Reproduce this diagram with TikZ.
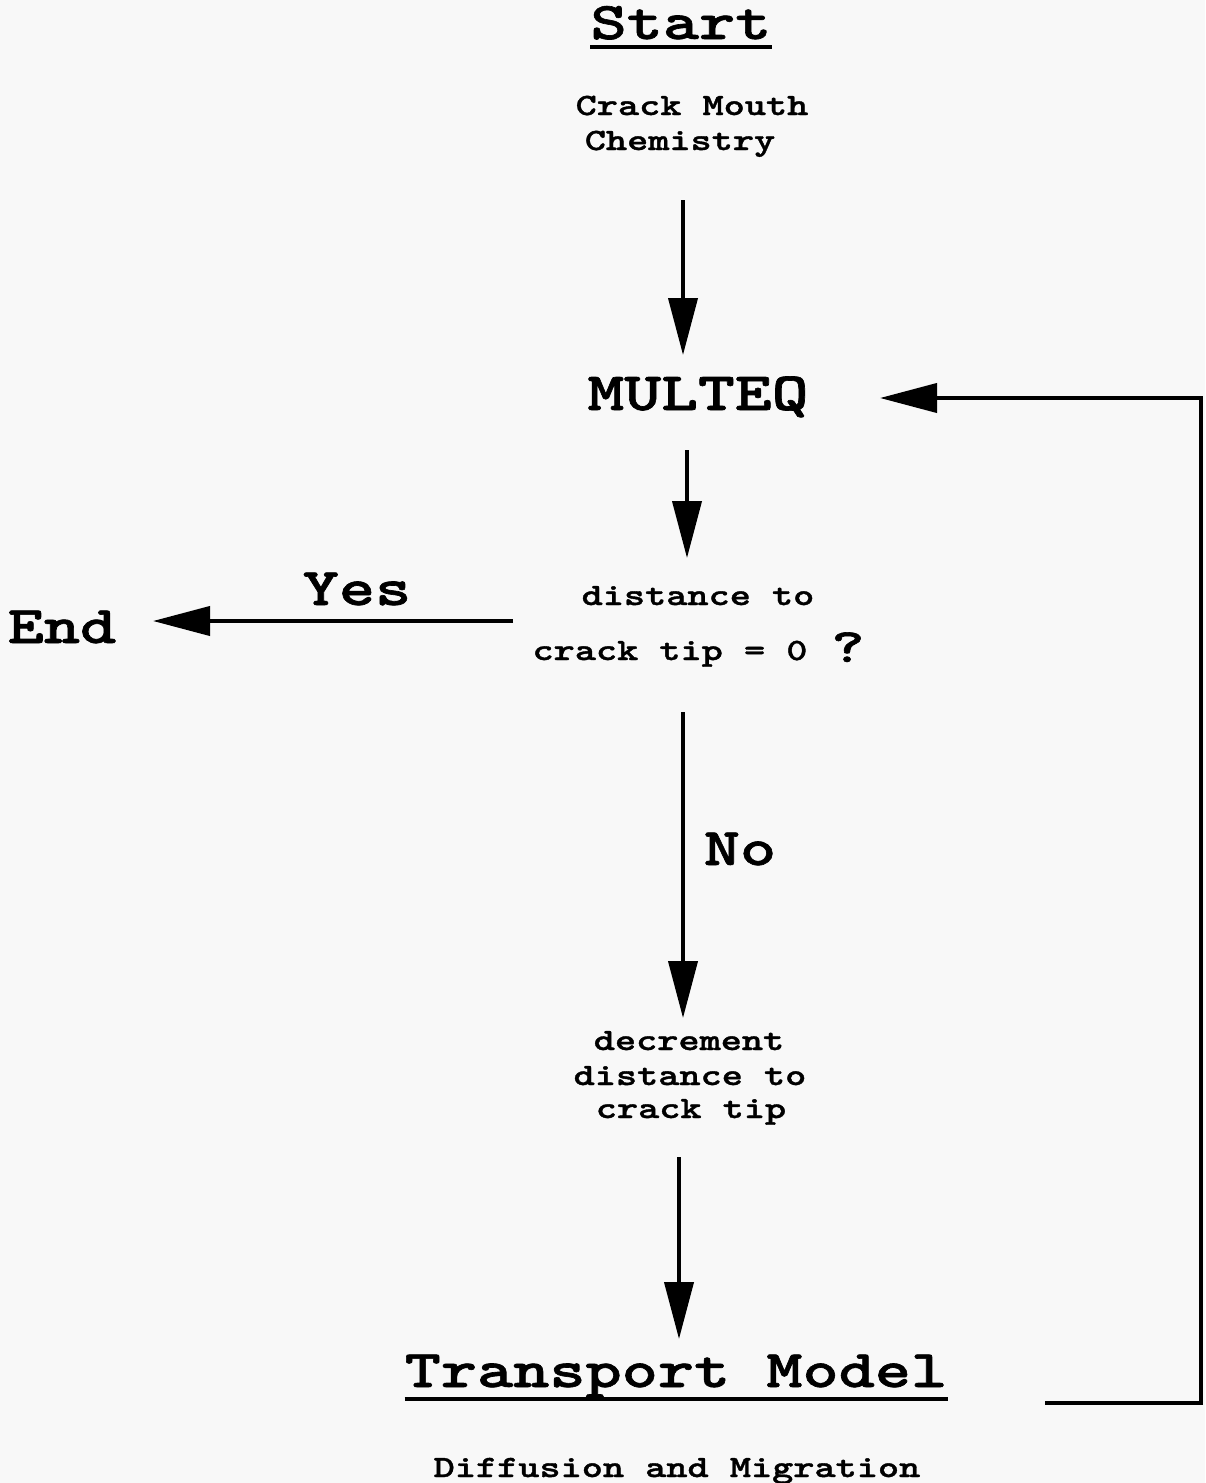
\documentclass[tikz,border=0pt]{standalone}
\usepackage{fontspec}
\usetikzlibrary{arrows.meta}
\newfontfamily\flowfont{lmmonolt10-bold.otf}[FakeStretch=1.3,FakeBold=1.2]
\definecolor{paper}{HTML}{F8F8F8}

\begin{document}
\begin{tikzpicture}[x=1pt,y=-1pt,
  every node/.style={inner sep=0pt,anchor=base},
  big/.style={font=\flowfont\fontsize{53}{58}\selectfont},
  small/.style={font=\flowfont\fontsize{31}{35}\selectfont},
  flow/.style={line width=4pt,-{Triangle[length=57pt,width=29pt]}},
  uline/.style={line width=3.5pt}]
\fill[paper] (0,0) rectangle (1205,1483);
\useasboundingbox (0,0) rectangle (1205,1483);
\coordinate (colA) at (683,0);
\coordinate (colB) at (687,0);
\coordinate (colD) at (679,0);
\coordinate (rightcol) at (1201,0);
\coordinate (toprow) at (0,398);
\coordinate (yesrow) at (0,621);
\coordinate (lowrow) at (0,1403);
\node[big] (start) at (681,39) {Start};
\draw[uline] ([yshift=-8pt]start.base west) -- ([yshift=-8pt]start.base east);
\node[small] (crack) at (692,115) {Crack Mouth};
\node[small] (chem) at (680,150) {Chemistry};
\node[big,font=\flowfont\fontsize{54}{58}\selectfont] (multeq) at (698,410) {MULTEQ};
\node[small] (dist) at (698,605) {distance to};
\node[small] (tip) at (670,660) {crack tip = 0};
\node[font=\flowfont\fontsize{48}{50}\selectfont] (quest) at (848,662) {?};
\node[big] (yes) at (357,605) {Yes};
\node[big] (endn) at (62,643) {End};
\node[big] (no) at (740,865) {No};
\node[small] (decr) at (689,1050) {decrement};
\node[small] (decrdist) at (690,1085) {distance to};
\node[small] (decrtip) at (691,1118) {crack tip};
\node[big] (trans) at (676,1387) {Transport Model};
\draw[uline] ([yshift=-12pt]trans.base west) -- ([yshift=-12pt]trans.base east);
\node[small] (diffmig) at (677,1477) {Diffusion and Migration};
\draw[flow,shorten <=50pt,shorten >=55pt] (chem.base -| colA) -- (multeq.base -| colA);
\draw[flow,shorten <=40pt,shorten >=47pt] (multeq.base -| colB) -- (dist.base -| colB);
\draw[flow,shorten <=157pt,shorten >=91pt] (tip.base |- yesrow) -- (endn.base |- yesrow);
\draw[flow,shorten <=52pt,shorten >=32pt] (tip.base -| colA) -- (decr.base -| colA);
\draw[flow,shorten <=39pt,shorten >=48pt] (decrtip.base -| colD) -- (trans.base -| colD);
\draw[flow,shorten <=369pt,shorten >=182pt] (trans.base |- lowrow) -| (rightcol |- toprow) -- (multeq.base |- toprow);
\end{tikzpicture}
\end{document}
